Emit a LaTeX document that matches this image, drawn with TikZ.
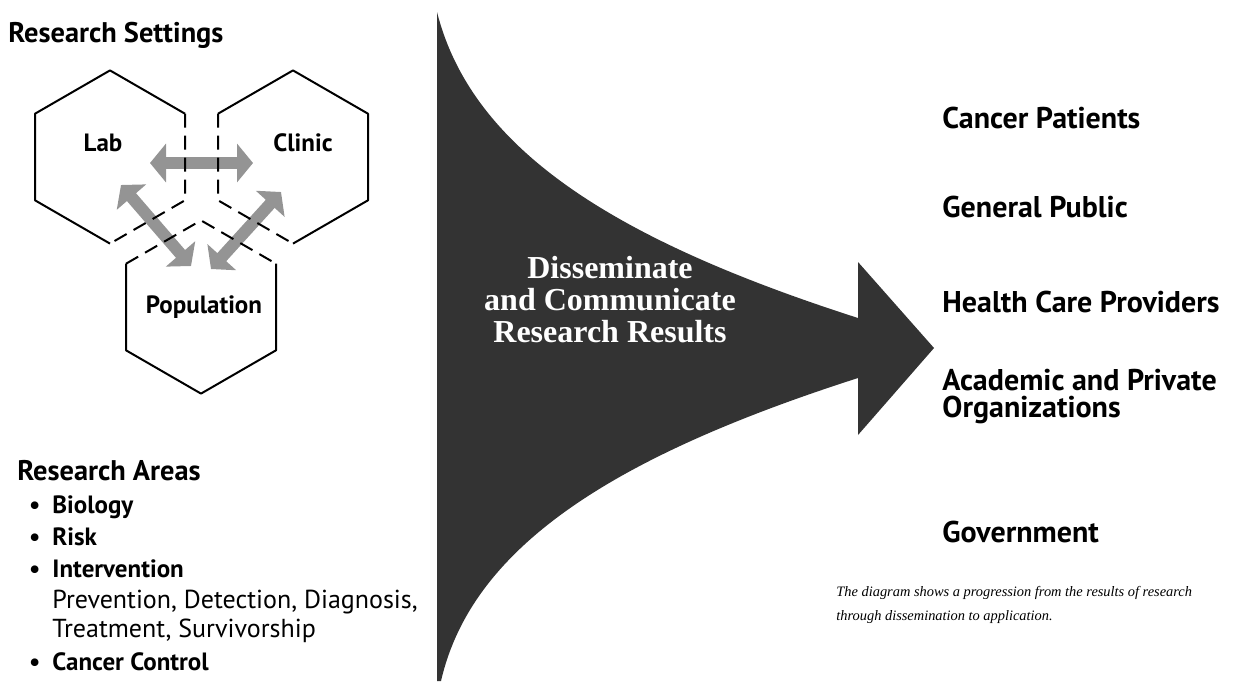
\documentclass[tikz,border=0pt]{standalone}
\usepackage{fontspec}
\setmainfont{PT Sans}
\newfontfamily\serifface{Liberation Serif}
\usepackage{tikz}
\usetikzlibrary{arrows.meta, positioning, calc}
\def\hexr{86.6}
\tikzstyle{heading} = [anchor=base west, inner sep=0pt, font=\bfseries\fontsize{14.2}{17}\selectfont]
\tikzstyle{audience} = [anchor=base west, inner sep=0pt, align=left, font=\bfseries\fontsize{15}{13.5}\selectfont]
\tikzstyle{area} = [anchor=base west, inner sep=0pt, font=\bfseries\fontsize{12.5}{15}\selectfont]
\tikzstyle{subarea} = [anchor=base west, inner sep=0pt, font=\fontsize{13}{15}\selectfont]
\tikzstyle{setting} = [inner sep=0pt, font=\bfseries\fontsize{12.5}{15}\selectfont]
\tikzstyle{hexsolid} = [line width=1pt, line join=round]
\tikzstyle{hexdash} = [line width=1pt, dash pattern=on 7pt off 4pt]
\tikzstyle{linkarrow} = [line width=6pt, draw=black!42, {Triangle[width=19pt,length=8pt]}-{Triangle[width=19pt,length=8pt]}]
\tikzstyle{funnel} = [fill=black!80]

\begin{document}
\begin{tikzpicture}[x=0.5pt, y=0.5pt]
    \useasboundingbox (0,0) rectangle (1234,-681);

    % Funnel arrow
    \fill[funnel] (437,-12) .. controls (472,-150) and (615,-240) .. (858,-318)
        -- (858,-262) -- (934,-348) -- (858,-435) -- (858,-378)
        .. controls (615,-456) and (472,-546) .. (441,-681) -- (437,-681) -- cycle;
    \node[align=center, text=white, inner sep=0pt, font=\serifface\bfseries\fontsize{16}{16}\selectfont] (spread) at (610,-300) {Disseminate\\and Communicate\\Research Results};

    % Research settings
    \node[heading] (settings) at (8,-42) {Research Settings};
    \coordinate (labc) at (110,-157);
    \coordinate (clinicc) at (293,-157);
    \coordinate (popc) at (201,-307);

    % Links between settings
    \coordinate (lc-a) at (150,-163);
    \coordinate (lc-b) at (253,-163);
    \coordinate (lp-a) at (121,-185);
    \coordinate (lp-b) at (191,-266);
    \coordinate (cp-a) at (281,-192);
    \coordinate (cp-b) at (211,-269);
    \draw[linkarrow] (lc-a) -- (lc-b);
    \draw[linkarrow] (lp-a) -- (lp-b);
    \draw[linkarrow] (cp-a) -- (cp-b);

    % Hexagons
    \draw[hexsolid] ($(labc)+(-90:\hexr)$) -- ($(labc)+(-150:\hexr)$) -- ($(labc)+(150:\hexr)$) -- ($(labc)+(90:\hexr)$) -- ($(labc)+(30:\hexr)$);
    \draw[hexdash] ($(labc)+(30:\hexr)$) -- ($(labc)+(-30:\hexr)$) -- ($(labc)+(-90:\hexr)$);
    \draw[hexsolid] ($(clinicc)+(-90:\hexr)$) -- ($(clinicc)+(-30:\hexr)$) -- ($(clinicc)+(30:\hexr)$) -- ($(clinicc)+(90:\hexr)$) -- ($(clinicc)+(150:\hexr)$);
    \draw[hexdash] ($(clinicc)+(150:\hexr)$) -- ($(clinicc)+(-150:\hexr)$) -- ($(clinicc)+(-90:\hexr)$);
    \draw[hexdash] ($(popc)+(150:\hexr)$) -- ($(popc)+(90:\hexr)$) -- ($(popc)+(30:\hexr)$);
    \draw[hexsolid] ($(popc)+(30:\hexr)$) -- ($(popc)+(-30:\hexr)$) -- ($(popc)+(-90:\hexr)$) -- ($(popc)+(-150:\hexr)$) -- ($(popc)+(150:\hexr)$);

    \node[setting] (lab) at (103,-143) {Lab};
    \node[setting] (clinic) at (303,-143) {Clinic};
    \node[setting] (population) at (204,-307) {Population};

    % Research areas
    \node[heading] (areas) at (17,-480) {Research Areas};
    \node[area] (biology) at (52,-513) {\llap{\textbullet\hspace{6pt}}Biology};
    \node[area] (risk) at (52,-545) {\llap{\textbullet\hspace{6pt}}Risk};
    \node[area] (intervention) at (52,-577) {\llap{\textbullet\hspace{6pt}}Intervention};
    \node[subarea] (prevention) at (52,-608) {Prevention, Detection, Diagnosis,};
    \node[subarea] (treatment) at (52,-637) {Treatment, Survivorship};
    \node[area] (control) at (52,-670) {\llap{\textbullet\hspace{6pt}}Cancer Control};

    % Audiences
    \node[audience] (patients) at (942,-128) {Cancer Patients};
    \node[audience] (public) at (942,-217) {General Public};
    \node[audience] (providers) at (942,-312) {Health Care Providers};
    \node[audience, anchor=west] (orgs) at (942,-397) {Academic and Private\\Organizations};
    \node[audience] (government) at (942,-542) {Government};

    % Caption
    \node[anchor=west, align=left, inner sep=0pt, font=\serifface\itshape\fontsize{7.2}{12}\selectfont] (caption) at (836,-605) {The diagram shows a progression from the results of research\\through dissemination to application.};
\end{tikzpicture}
\end{document}
